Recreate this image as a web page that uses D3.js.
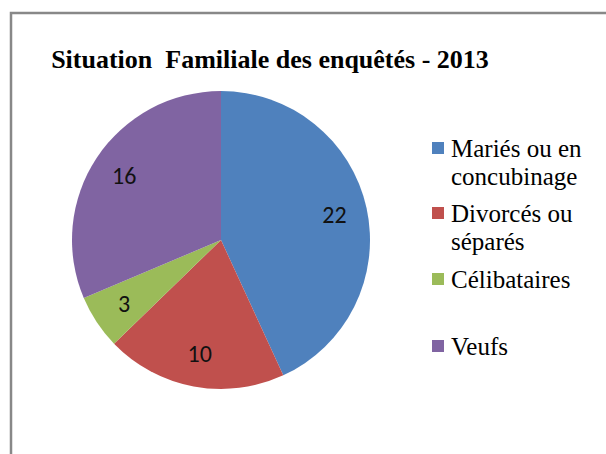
<!DOCTYPE html>
<html lang="fr">
<head>
<meta charset="utf-8">
<script src="https://cdn.jsdelivr.net/npm/d3@7"></script>
</head>
<body style="margin:0">
<script>
// data
const categories = ["Mariés ou en concubinage", "Divorcés ou séparés", "Célibataires", "Veufs"];
const legendLines = [["Mariés ou en", "concubinage"], ["Divorcés ou", "séparés"], ["Célibataires"], ["Veufs"]];
const values = [22, 10, 3, 16];
const colors = ["#4F81BD", "#C0504D", "#9BBB59", "#8064A2"];
const title = "Situation  Familiale des enquêtés - 2013";

const serif = '"Liberation Serif", "Times New Roman", serif';
const sans = 'Carlito, Lato, sans-serif';

const w = 606, h = 454;
const cx = 221, cy = 240, r = 149;

const svg = d3.select("body").append("svg")
    .attr("width", w)
    .attr("height", h);

// chart frame, only top and left edges show
svg.append("path")
    .attr("d", "M11,454 V13 H606")
    .attr("fill", "none")
    .attr("stroke", "#888")
    .attr("stroke-width", 2.5);

svg.append("text")
    .attr("x", 270)
    .attr("y", 68)
    .attr("text-anchor", "middle")
    .attr("font-family", serif)
    .style("font-family", serif, "important")
    .style("font-weight", "bold")
    .style("font-size", "26px")
    .style("white-space", "pre")
    .text(title);

const color = d3.scaleOrdinal().domain(categories).range(colors);

const pie = d3.pie().sort(null).value(d => d.value);
const data = categories.map((c, i) => ({ name: c, value: values[i] }));
const arcs = pie(data);

const arc = d3.arc().innerRadius(0).outerRadius(r);
const labelArc = d3.arc().innerRadius(r * 0.78).outerRadius(r * 0.78);

const g = svg.append("g").attr("transform", `translate(${cx},${cy})`);

g.selectAll("path")
  .data(arcs)
  .join("path")
    .attr("d", arc)
    .attr("fill", d => color(d.data.name));

g.selectAll("text")
  .data(arcs)
  .join("text")
    .attr("transform", d => `translate(${labelArc.centroid(d)})`)
    .attr("text-anchor", "middle")
    .attr("dy", "0.33em")
    .attr("font-family", sans)
    .style("font-family", sans, "important")
    .style("font-size", "24px")
    .attr("fill", "#111")
    .text(d => d.data.value);

// legend
const legendY = [157, 222, 288, 355];
const item = svg.append("g")
  .selectAll("g")
  .data(categories)
  .join("g")
    .attr("transform", (d, i) => `translate(432,${legendY[i]})`);

item.append("rect")
    .attr("y", -15)
    .attr("width", 12)
    .attr("height", 12)
    .attr("fill", d => color(d));

item.append("text")
    .attr("font-family", serif)
    .style("font-family", serif, "important")
    .style("font-size", "25px")
    .attr("fill", "#000")
  .selectAll("tspan")
  .data((d, i) => legendLines[i])
  .join("tspan")
    .attr("x", 19)
    .attr("dy", (d, i) => i === 0 ? 0 : 28)
    .style("font-family", serif, "important")
    .text(d => d);
</script>
</body>
</html>
